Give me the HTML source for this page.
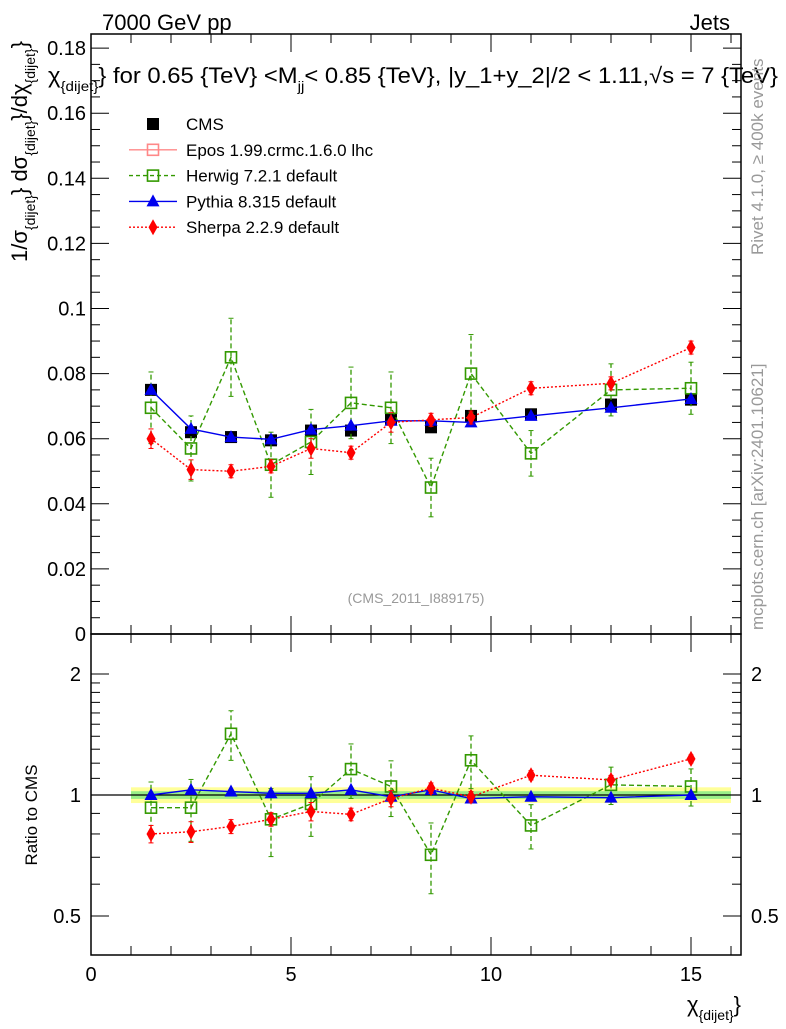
<!DOCTYPE html>
<html><head><meta charset="utf-8"><style>
body{margin:0;background:#fff}
svg text{font-family:"Liberation Sans",sans-serif}
</style></head><body>
<svg id="c" width="786" height="1024" xmlns="http://www.w3.org/2000/svg">
<text x="102" y="30" font-size="22">7000 GeV pp</text>
<text x="730" y="30" font-size="22" text-anchor="end">Jets</text>
<text x="48" y="83" font-size="22" textLength="730" lengthAdjust="spacingAndGlyphs">χ<tspan font-size="14" dy="8">{dijet}</tspan><tspan dy="-8">} for 0.65 {TeV} &lt;M</tspan><tspan font-size="14" dy="8">jj</tspan><tspan dy="-8">&lt; 0.85 {TeV}, |y_1+y_2|/2 &lt; 1.11,√s = 7 {TeV}</tspan></text>
<text transform="translate(27,262) rotate(-90)" font-size="22">1/σ<tspan font-size="14" dy="8">{dijet}</tspan><tspan dy="-8">} dσ</tspan><tspan font-size="14" dy="8">{dijet}</tspan><tspan dy="-8">}/dχ</tspan><tspan font-size="14" dy="8">{dijet}</tspan><tspan dy="-8">}</tspan></text>
<text transform="translate(37,815) rotate(-90)" font-size="17" text-anchor="middle">Ratio to CMS</text>
<text x="741" y="1012" font-size="22" text-anchor="end">χ<tspan font-size="14" dy="8">{dijet}</tspan><tspan dy="-8">}</tspan></text>
<text transform="translate(763,255) rotate(-90)" font-size="17" fill="#999">Rivet 4.1.0, ≥ 400k events</text>
<text transform="translate(763,630) rotate(-90)" font-size="17" fill="#999">mcplots.cern.ch [arXiv:2401.10621]</text>
<text x="416" y="603" font-size="14" fill="#999" text-anchor="middle">(CMS_2011_I889175)</text>
<g id="g"></g>
</svg>
<script>
const xs=[1.5,2.5,3.5,4.5,5.5,6.5,7.5,8.5,9.5,11,13,15];
const cms=[0.075,0.062,0.0605,0.0595,0.0625,0.0625,0.066,0.0635,0.067,0.0675,0.0705,0.072];
const pythia=[0.075,0.063,0.0605,0.0598,0.0628,0.064,0.0655,0.0655,0.065,0.067,0.0695,0.0722];
const herwig=[0.0695,0.057,0.085,0.052,0.059,0.071,0.0695,0.045,0.080,0.0555,0.075,0.0755];
const herwigErr=[0.011,0.01,0.012,0.01,0.01,0.011,0.011,0.009,0.012,0.007,0.008,0.008];
const sherpa=[0.060,0.0505,0.050,0.0515,0.057,0.0557,0.065,0.0658,0.0665,0.0755,0.077,0.088];
const sherpaErr=[0.003,0.003,0.002,0.002,0.003,0.002,0.003,0.002,0.002,0.002,0.002,0.002];
const rPythia=[1.0,1.03,1.02,1.01,1.01,1.03,0.99,1.03,0.98,0.99,0.985,1.0];
const rHerwig=[0.93,0.93,1.42,0.87,0.95,1.16,1.05,0.71,1.22,0.84,1.06,1.05];
const rSherpa=[0.8,0.81,0.835,0.87,0.91,0.895,0.98,1.04,0.99,1.12,1.09,1.23];
const yTicks=[0,0.02,0.04,0.06,0.08,0.1,0.12,0.14,0.16,0.18];
const rTicks=[0.5,1,2];
const xTicks=[0,5,10,15];

const L=91,R=741,T=34,MB=634,RB=955;
const X=v=>L+v*40;
const Y=v=>MB-v*3255;
const RY=v=>795-Math.log2(v)*121;
const NS="http://www.w3.org/2000/svg";
const g=document.getElementById('g');
function el(t,a,p){const e=document.createElementNS(NS,t);for(const k in a)e.setAttribute(k,a[k]);(p||g).appendChild(e);return e;}

let b=el('rect',{x:X(1),y:RY(1.045),width:X(16)-X(1),height:RY(0.955)-RY(1.045),fill:'#ffff99'});


b=el('rect',{x:X(1),y:RY(1.022),width:X(16)-X(1),height:RY(0.978)-RY(1.022),fill:'#99ee88'});


let l1=el('line',{x1:L,x2:R,y1:RY(1),y2:RY(1),stroke:'#000','stroke-width':1.3});



let f=el('rect',{x:L,y:T,width:R-L,height:MB-T,fill:'none',stroke:'#000','stroke-width':1.5});


f=el('rect',{x:L,y:MB,width:R-L,height:RB-MB,fill:'none',stroke:'#000','stroke-width':1.5});



for(let v=0;v<=0.1841;v+=0.005){const maj=Math.abs(v/0.02-Math.round(v/0.02))<1e-6;const w=maj?18:9;
 el('line',{x1:L,x2:L+w,y1:Y(v),y2:Y(v),stroke:'#000'});el('line',{x1:R,x2:R-w,y1:Y(v),y2:Y(v),stroke:'#000'});}
yTicks.forEach(v=>{const t=el('text',{x:L-5,y:Y(v)+7,'font-size':20,'text-anchor':'end'});t.textContent=v===0?'0':String(v);
 
 });
[0.5,0.6,0.7,0.8,0.9,1,1.1,1.2,1.3,1.4,1.5,1.6,1.7,1.8,1.9,2].forEach(v=>{const maj=rTicks.includes(v);const w=maj?18:9;
 el('line',{x1:L,x2:L+w,y1:RY(v),y2:RY(v),stroke:'#000'});el('line',{x1:R,x2:R-w,y1:RY(v),y2:RY(v),stroke:'#000'});});
rTicks.forEach(v=>{let t=el('text',{x:L-10,y:RY(v)+7,'font-size':20,'text-anchor':'end'});t.textContent=String(v);
 
 
 t=el('text',{x:R+10,y:RY(v)+7,'font-size':20,'fill':'#000'});t.textContent=String(v);
 
 });
for(let v=0;v<=16;v++){const maj=v%5===0;const w=maj?18:9;
 [[T,1],[MB,-1],[MB,1],[RB,-1]].forEach(([y0,d])=>el('line',{x1:X(v),x2:X(v),y1:y0,y2:y0+d*w,stroke:'#000'}));}
xTicks.forEach(v=>{const t=el('text',{x:X(v),y:981,'font-size':20,'text-anchor':'middle'});t.textContent=String(v);
 
 });

function marker(type,x,y,color){
 if(type==='sq')return el('rect',{x:x-6,y:y-6,width:12,height:12,fill:'#000'});
 if(type==='osq')return el('rect',{x:x-5.5,y:y-5.5,width:11,height:11,fill:'none',stroke:color,'stroke-width':1.6});
 if(type==='tri')return el('path',{d:`M${x},${y-7}L${x+6.5},${y+5}L${x-6.5},${y+5}Z`,fill:color});
 if(type==='dia')return el('path',{d:`M${x},${y-8}L${x+4.5},${y}L${x},${y+8}L${x-4.5},${y}Z`,fill:color});
}
function series(name,vals,errs,yf,color,dash,type,noLine){
 if(!noLine){
 const pts=xs.map((x,i)=>X(x)+','+yf(vals[i])).join(' ');
 const pl=el('polyline',{points:pts,fill:'none',stroke:color,'stroke-width':1.4,'stroke-dasharray':dash||'none'});
 
 
 }
 xs.forEach((x,i)=>{
  if(errs){const e=errs[i];const lo=yf(vals[i]-e),hi=yf(vals[i]+e);
   el('line',{x1:X(x),x2:X(x),y1:lo,y2:hi,stroke:color,'stroke-width':1.3,'stroke-dasharray':dash||'none'});
   el('line',{x1:X(x)-2.5,x2:X(x)+2.5,y1:lo,y2:lo,stroke:color});el('line',{x1:X(x)-2.5,x2:X(x)+2.5,y1:hi,y2:hi,stroke:color});}
  const m=marker(type,X(x),yf(vals[i]),color);
  
  
 });
}
series('cms',cms,null,Y,'#000',null,'sq',true);
series('herwig',herwig,herwigErr,Y,'#339900','5,3','osq');
series('pythia',pythia,null,Y,'#0000ee',null,'tri');
series('sherpa',sherpa,sherpaErr,Y,'#ff0000','2,2','dia');
const rHerr=rHerwig.map((v,i)=>v*herwigErr[i]/herwig[i]);
const rSerr=rSherpa.map((v,i)=>v*sherpaErr[i]/sherpa[i]);
series('ratio-herwig',rHerwig,rHerr,RY,'#339900','5,3','osq');
series('ratio-pythia',rPythia,null,RY,'#0000ee',null,'tri');
series('ratio-sherpa',rSherpa,rSerr,RY,'#ff0000','2,2','dia');

const leg=[['CMS','#000',null,'sq',false],['Epos 1.99.crmc.1.6.0 lhc','#ff8888',null,'osq',true],['Herwig 7.2.1 default','#339900','4,3','osq',true],['Pythia 8.315 default','#0000ee',null,'tri',true],['Sherpa 2.2.9 default','#ff0000','2,2','dia',true]];
leg.forEach((d,i)=>{const y=124+i*25.8;
 if(d[4]){el('line',{x1:129,x2:177,y1:y,y2:y,stroke:d[1],'stroke-width':1.4,'stroke-dasharray':d[2]||'none'});}
 marker(d[3],153,y,d[1]);
 const t=el('text',{x:186,y:y+6,'font-size':17});t.textContent=d[0];
 
 });
</script>
</body></html>
